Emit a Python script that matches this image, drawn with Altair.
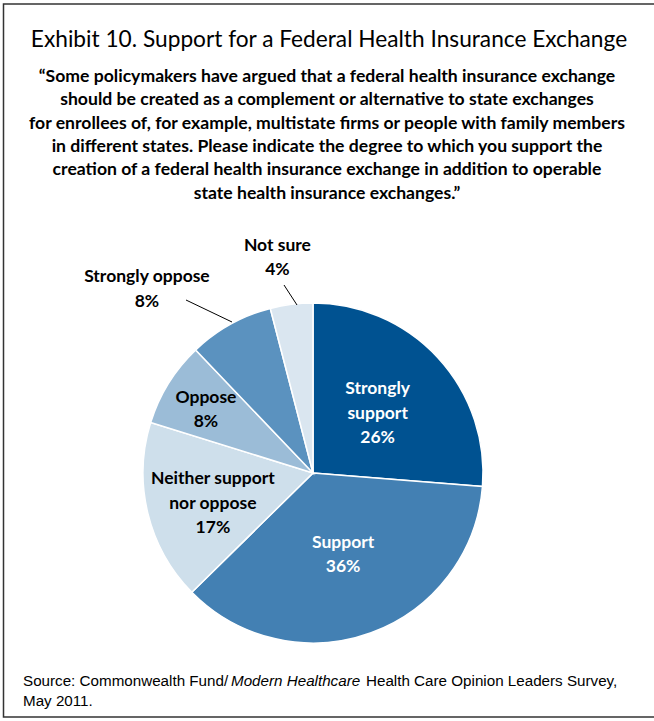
import altair as alt
import pandas as pd

categories = ["Strongly support", "Support", "Neither support nor oppose", "Oppose", "Strongly oppose", "Not sure"]
values = [26, 36, 17, 8, 8, 4]
labels = ["Strongly\nsupport\n26%", "Support\n36%", "Neither support\nnor oppose\n17%", "Oppose\n8%", "Strongly oppose\n8%", "Not sure\n4%"]
colors = ["#005291", "#4380B3", "#CEDFEB", "#9BBCD7", "#5B92BF", "#DAE6F0"]

title = "Exhibit 10. Support for a Federal Health Insurance Exchange"
subtitle = [
    "\u201cSome policymakers have argued that a federal health insurance exchange",
    "should be created as a complement or alternative to state exchanges",
    "for enrollees of, for example, multistate firms or people with family members",
    "in different states. Please indicate the degree to which you support the",
    "creation of a federal health insurance exchange in addition to operable",
    "state health insurance exchanges.\u201d",
]

df = pd.DataFrame({"cat": categories, "value": values, "label": labels, "idx": list(range(len(values)))})

COND = "Lato, Roboto, sans-serif"
NORM = "Liberation Sans, Arial, sans-serif"
CX, CY, R = 313, 473, 170

base = alt.Chart(df).encode(
    theta=alt.Theta("value:Q", stack=True),
    order=alt.Order("idx:Q"),
    x=alt.value(CX),
    y=alt.value(CY),
)

pie = base.mark_arc(outerRadius=R, stroke="white", strokeWidth=1.5).encode(
    color=alt.Color("cat:N", scale=alt.Scale(domain=categories, range=colors), legend=None)
)


def label_layer(names, radius, color, dx=0, dy=0):
    return base.mark_text(radius=radius, font=COND, fontSize=17.5, fontWeight="bold",
                          lineBreak="\n", lineHeight=24.5, align="center", baseline="middle",
                          dx=dx, dy=dy).encode(
        text="label:N",
        color=alt.value(color),
        opacity=alt.condition(alt.FieldOneOfPredicate(field="cat", oneOf=names), alt.value(1), alt.value(0)),
    )

lab0 = label_layer(["Strongly support"], 88, "white", dy=-24)
lab1 = label_layer(["Support"], 88, "white", dy=-13)
lab2 = label_layer(["Neither support nor oppose"], 103, "black", dy=-18)
lab3 = label_layer(["Oppose"], 126, "black", dy=-9)
lab4 = label_layer(["Strongly oppose"], 249, "black", dx=-45, dy=22)
lab5 = label_layer(["Not sure"], 218, "black", dx=-8, dy=-11)

one = alt.Data(values=[{"a": 1}])

leaders = alt.Chart(pd.DataFrame({
    "x": [186, 284], "y": [300, 285], "x2": [232, 297], "y2": [322, 305]
})).mark_rule(color="black", strokeWidth=1).encode(
    x=alt.X("x:Q", scale=alt.Scale(domain=[0, 654], range=[0, 654]), axis=None),
    y=alt.Y("y:Q", scale=alt.Scale(domain=[0, 721], range=[0, 721]), axis=None),
    x2="x2:Q", y2="y2:Q",
)

frame = alt.Chart(one).mark_rect(fill=None, stroke="#333333", strokeWidth=1.5).encode(
    x=alt.value(3.5), x2=alt.value(660), y=alt.value(4), y2=alt.value(717)
)

title_layer = alt.Chart(one).mark_text(text=title, font=COND, fontSize=22.7, fontWeight="normal",
                                       color="black", align="center", baseline="middle").encode(
    x=alt.value(329), y=alt.value(40))

sub_layer = alt.Chart(one).mark_text(text=subtitle, font=COND, fontSize=17.6, fontWeight="bold",
                                     lineHeight=23.3, color="black", align="center", baseline="middle").encode(
    x=alt.value(327), y=alt.value(77))

src_font = 15.2
src1 = alt.Chart(one).mark_text(text="Source: Commonwealth Fund/", font=NORM, fontSize=src_font,
                                align="left", baseline="middle", color="black").encode(
    x=alt.value(23), y=alt.value(681))
src2 = alt.Chart(one).mark_text(text="Modern Healthcare", font=NORM, fontSize=src_font, fontStyle="italic",
                                align="left", baseline="middle", color="black").encode(
    x=alt.value(231), y=alt.value(681))
src3 = alt.Chart(one).mark_text(text="Health Care Opinion Leaders Survey,", font=NORM, fontSize=src_font,
                                align="left", baseline="middle", color="black").encode(
    x=alt.value(366), y=alt.value(681))
src4 = alt.Chart(one).mark_text(text="May 2011.", font=NORM, fontSize=src_font,
                                align="left", baseline="middle", color="black").encode(
    x=alt.value(23), y=alt.value(701))

chart = alt.layer(
    frame, pie, leaders, lab0, lab1, lab2, lab3, lab4, lab5,
    title_layer, sub_layer, src1, src2, src3, src4
).properties(
    width=654, height=721, padding=0, autosize=alt.AutoSizeParams(type="none"), background="white"
).configure_view(stroke=None)

chart.save("out.html", embed_options={"renderer": "svg", "actions": False})
